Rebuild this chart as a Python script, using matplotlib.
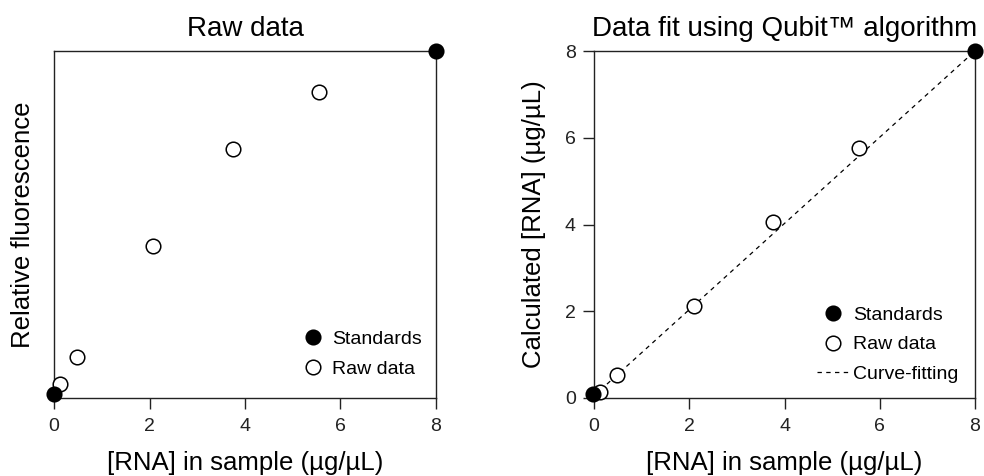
"""Qubit RNA assay: raw fluorescence vs. fitted concentration."""

import matplotlib
matplotlib.use("Agg")
import matplotlib.pyplot as plt

plt.rcParams.update({
    "font.family": ["Liberation Sans", "DejaVu Sans"],
    "axes.linewidth": 1.0,
    "axes.edgecolor": "#222222",
    "xtick.color": "#222222",
    "ytick.color": "#222222",
})

# ---------------------------------------------------------------------------
# Data
# ---------------------------------------------------------------------------

# left panel: raw fluorescence (arbitrary units, 0..1)
std_x_raw = [0.0, 8.0]
std_y_raw = [0.012, 1.0]
raw_x = [0.12, 0.48, 2.08, 3.74, 5.56]
raw_y = [0.040, 0.118, 0.439, 0.719, 0.883]

# right panel: concentration calculated by the Qubit fit
std_x_fit = [-0.03, 8.0]
std_y_fit = [0.09, 8.0]
fit_x = [0.12, 0.48, 2.09, 3.75, 5.57]
fit_y = [0.14, 0.54, 2.11, 4.05, 5.77]
curve_x = [0.0, 8.0]
curve_y = [0.05, 8.0]

ticks = [0, 2, 4, 6, 8]
xlabel = "[RNA] in sample (\u00b5g/\u00b5L)"

MS = 10.5
MEW = 1.1
LEG_KW = dict(frameon=False, fontsize=14, handlelength=1.7, handletextpad=0.15,
              labelspacing=0.62, borderpad=0, borderaxespad=0, loc="upper left")


def _style(ax):
    ax.set_xlim(0, 8)
    ax.set_xticks(ticks)
    ax.tick_params(axis="both", direction="out", length=8, width=1.0,
                   labelsize=14)
    ax.tick_params(axis="x", pad=6.5)
    ax.tick_params(axis="y", pad=5)
    ax.set_xlabel(xlabel, fontsize=18.5)
    ax.xaxis.set_label_coords(0.5, -0.152)


fig = plt.figure(figsize=(9.84, 4.76), dpi=100)
ax1 = fig.add_axes([54 / 984, 1 - 398 / 476, 382 / 984, 347 / 476])
ax2 = fig.add_axes([594 / 984, 1 - 398 / 476, 381 / 984, 347 / 476])

# --- left: raw data ---------------------------------------------------------
ax1.plot(std_x_raw, std_y_raw, "o", color="black", ms=MS, mew=MEW,
         clip_on=False, zorder=5, label="Standards")
ax1.plot(raw_x, raw_y, "o", mfc="white", mec="black", ms=MS, mew=MEW,
         clip_on=False, zorder=4, label="Raw data")
ax1.set_ylim(0, 1)
ax1.set_yticks([])
_style(ax1)
ax1.set_title("Raw data", fontsize=20, pad=11)
ax1.set_ylabel("Relative fluorescence", fontsize=18.5)
ax1.yaxis.set_label_coords(-0.05, 0.5)
ax1.legend(bbox_to_anchor=(0.634, 0.195), **LEG_KW)

# --- right: fitted ----------------------------------------------------------
ax2.plot(curve_x, curve_y, "--", color="black", lw=0.9, dashes=(3.5, 3.5),
         zorder=3, label="Curve-fitting")
ax2.plot(std_x_fit, std_y_fit, "o", color="black", ms=MS, mew=MEW,
         clip_on=False, zorder=5, label="Standards")
ax2.plot(fit_x, fit_y, "o", mfc="white", mec="black", ms=MS, mew=MEW,
         clip_on=False, zorder=4, label="Raw data")
ax2.set_ylim(0, 8)
ax2.set_yticks(ticks)
_style(ax2)
ax2.set_title("Data fit using Qubit\u2122 algorithm", fontsize=20, pad=11)
ax2.set_ylabel("Calculated [RNA] (\u00b5g/\u00b5L)", fontsize=18.5)
ax2.yaxis.set_label_coords(-0.125, 0.5)
h, l = ax2.get_legend_handles_labels()
order = [1, 2, 0]
ax2.legend([h[i] for i in order], [l[i] for i in order],
           bbox_to_anchor=(0.585, 0.265), **LEG_KW)

fig.savefig("out.png", dpi=100)
